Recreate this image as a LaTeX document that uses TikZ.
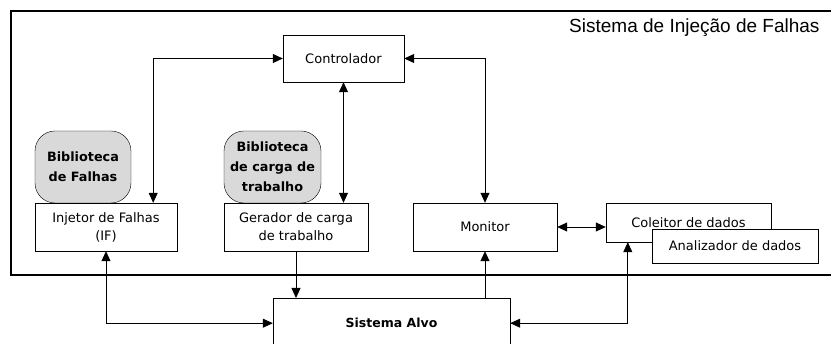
\documentclass[tikz,border=0pt]{standalone}
\usepackage{fontspec}
\setmainfont{DejaVu Sans}
\newfontfamily\titlefont{Liberation Sans}
\usetikzlibrary{arrows.meta,calc,positioning,shapes}
\definecolor{libgray}{RGB}{217,217,217}
\tikzset{%
	block/.style   = {draw, rectangle, fill=white, inner sep=0pt, align=center, font=\fontsize{13}{18}\selectfont},
	library/.style = {draw, rectangle, rounded corners=20pt, fill=libgray, inner sep=0pt, align=center, minimum width=96pt, minimum height=72pt, font=\fontsize{12.8}{20}\selectfont\bfseries},
	arrow/.style   = {line width=0.8pt, -{Triangle[length=10pt,width=9pt]}},
	biarrow/.style = {line width=0.8pt, {Triangle[length=10pt,width=9pt]}-{Triangle[length=10pt,width=9pt]}},
}
\begin{document}
\begin{tikzpicture}[x=1pt,y=-1pt]
	\useasboundingbox (0,0) rectangle (831,344);
	% moldura do sistema
	\draw[line width=1.6pt] (11,11) rectangle (860,275);
	\node[anchor=base west, inner sep=0pt, font=\titlefont\fontsize{19}{22}\selectfont] (title) at (569,33) {Sistema de Injeção de Falhas};
	% blocos
	\node[block, minimum width=121pt, minimum height=47pt] (ctrl) at (343.5,58.5) {Controlador};
	\node[library] (libf) at (83,167) {Biblioteca\\de Falhas};
	\node[library, minimum width=97pt] (libc) at (272.5,167) {Biblioteca\\de carga de\\trabalho};
	\node[block, minimum width=142pt, minimum height=48pt] (inj) at (106,227) {Injetor de Falhas\\(IF)};
	\node[block, minimum width=144pt, minimum height=48pt] (ger) at (296,227) {Gerador de carga\\de trabalho};
	\node[block, minimum width=144pt, minimum height=48pt] (mon) at (485,227) {Monitor};
	\node[block, minimum width=165pt, minimum height=39pt] (col) at (688.5,222.5) {Coleitor de dados};
	\node[block, minimum width=166pt, minimum height=34pt] (ana) at (735,246) {Analizador de dados};
	\node[block, anchor=north, minimum width=237pt, minimum height=50pt, font=\fontsize{12.5}{18}\selectfont\bfseries] (alvo) at (391.5,298) {Sistema Alvo};
	% conexoes
	\draw[biarrow] (ctrl.west) -| ([xshift=-24pt]inj.north east);
	\draw[biarrow] (ctrl.east) -| (mon.north);
	\draw[biarrow] (ctrl.south) -- (ctrl.south |- ger.north);
	\draw[biarrow] (inj.south) |- (alvo.west);
	\draw[arrow] (ger.south) -- (ger.south |- alvo.north);
	\draw[arrow] (alvo.north -| mon.south) -- (mon.south);
	\draw[biarrow] (alvo.east) -| ([xshift=22pt]col.south west);
	\draw[biarrow] (mon.east) -- (mon.east -| col.west);
\end{tikzpicture}
\end{document}
